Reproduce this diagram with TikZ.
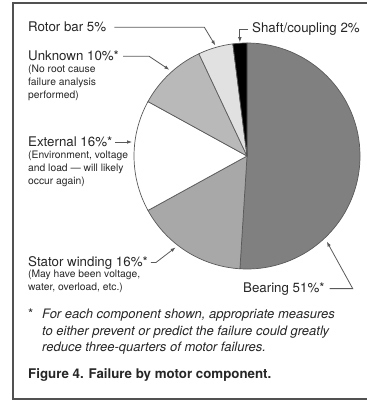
\documentclass[tikz,border=0pt]{standalone}
\usepackage{fontspec}
\setmainfont{TeX Gyre Heros}
\usetikzlibrary{positioning,arrows.meta}

\definecolor{ink}{HTML}{262626}
\definecolor{edge}{HTML}{5A5A5A}
\definecolor{bearing}{HTML}{808080}
\definecolor{stator}{HTML}{A8A8A8}
\definecolor{unknown}{HTML}{B9B9B9}
\definecolor{rotor}{HTML}{E1E1E1}

\begin{document}
\begin{tikzpicture}[x=1pt,y=1pt,
    lbl/.style = {anchor=base west, inner sep=0pt, text=ink, font=\fontsize{13.3}{15}\selectfont},
    note/.style = {anchor=north west, inner sep=0pt, align=left, text=ink, font=\fontsize{10.3}{12.8}\selectfont},
    slice/.style = {draw=edge, line width=0.7pt, line join=round},
    leader/.style = {draw=edge, line width=0.8pt, -{Latex[length=5pt,width=3.6pt]}},
    boxline/.style = {draw=ink!80, line width=1.4pt}]
        \useasboundingbox (0,0) rectangle (366,-403);
        \draw[boxline] (372,-3) -- (13,-3) -- (13,-399) -- (372,-399);

        % pie
        \coordinate (c) at (247,-156);
        \filldraw[slice, fill=bearing] (c) -- ++(90:113) arc (90:-93.6:113) -- cycle;
        \filldraw[slice, fill=stator] (c) -- ++(-93.6:113) arc (-93.6:-151.2:113) -- cycle;
        \filldraw[slice, fill=white] (c) -- ++(-151.2:113) arc (-151.2:-208.8:113) -- cycle;
        \filldraw[slice, fill=unknown] (c) -- ++(-208.8:113) arc (-208.8:-244.8:113) -- cycle;
        \filldraw[slice, fill=rotor] (c) -- ++(-244.8:113) arc (-244.8:-262.8:113) -- cycle;
        \filldraw[slice, fill=black] (c) -- ++(-262.8:113) arc (-262.8:-270:113) -- cycle;

        \coordinate (rotortip) at ([shift={(106:115)}]c);
        \coordinate (shafttip) at ([shift={(93.6:114)}]c);
        \coordinate (unknowntip) at ([shift={(132:116)}]c);
        \coordinate (externaltip) at (132,-142);
        \coordinate (statortip) at ([shift={(232:116)}]c);
        \coordinate (bearingtip) at ([shift={(-47:117)}]c);

        % labels
        \node[lbl] (rotor) at (28,-32) {Rotor bar 5\%};
        \node[lbl] (shaft) at (252,-33) {Shaft/coupling 2\%};
        \node[lbl] (unknown) at (28,-61) {Unknown 10\%*};
        \node[note] (unknownnote) at (28,-65) {(No root cause\\failure analysis\\performed)};
        \node[lbl] (external) at (28,-147) {External 16\%*};
        \node[note] (externalnote) at (28,-151) {(Environment, voltage\\and load — will likely\\occur again)};
        \node[lbl] (stator) at (28,-266) {Stator winding 16\%*};
        \node[note] (statornote) at (28,-270) {(May have been voltage,\\water, overload, etc.)};
        \node[lbl] (bearinglbl) at (243,-292) {Bearing 51\%*};

        \node[lbl] (star) at (28,-318) {*};
        \node[note, font=\fontsize{13}{16.6}\selectfont\itshape] (footnote) at (42,-309)
            {For each component shown, appropriate measures\\to either prevent or predict the failure could greatly\\reduce three-quarters of motor failures.};
        \node[lbl, font=\fontsize{13.3}{15}\selectfont\bfseries] (caption) at (28,-378) {Figure 4. Failure by motor component.};

        % leaders
        \draw[leader] ([xshift=8pt]rotor.east) -- ([xshift=98pt]rotor.east) -- (rotortip);
        \draw[leader] ([xshift=-4pt]shaft.west) -- (shaft.west -| shafttip) -- (shafttip);
        \draw[leader] ([xshift=4pt]unknown.east) -- ([xshift=30pt]unknown.east) -- (unknowntip);
        \draw[leader] ([xshift=3pt]external.east |- externaltip) -- (externaltip);
        \draw[leader] ([xshift=3pt]stator.east) -- ([xshift=8pt]stator.east) -- (statortip);
        \draw[leader] ([xshift=5pt]bearinglbl.east) -- ([xshift=28pt]bearinglbl.east) -- (bearingtip);
\end{tikzpicture}
\end{document}
